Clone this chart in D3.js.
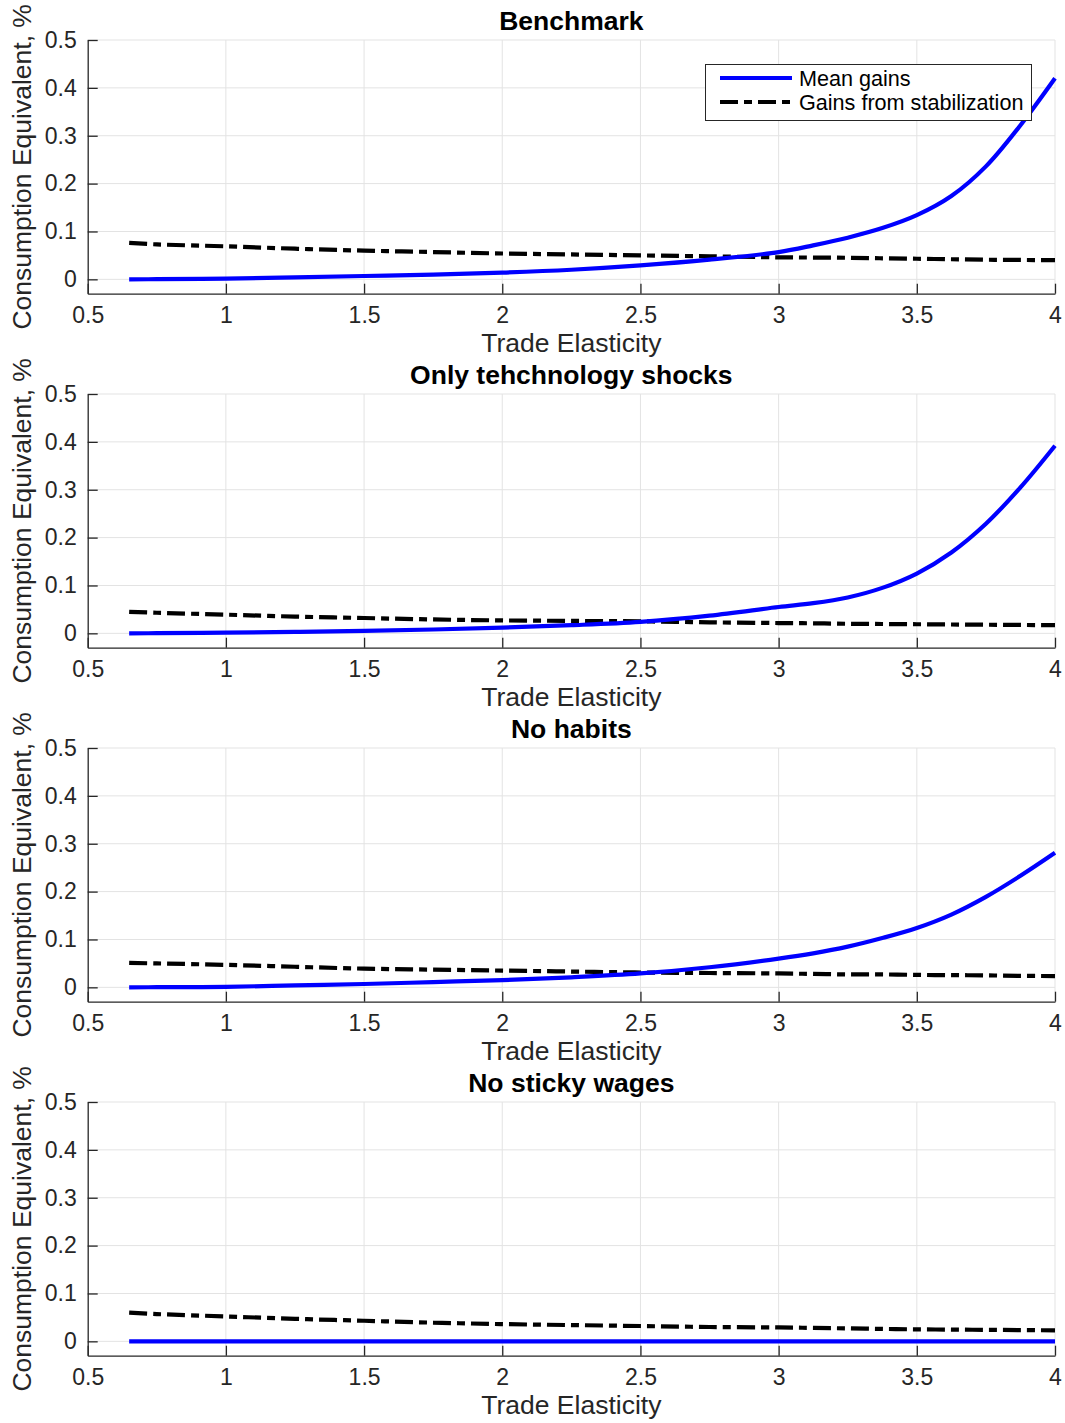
<!DOCTYPE html>
<html><head><meta charset="utf-8">
<script src="https://cdn.jsdelivr.net/npm/d3@7"></script>
<style>
html,body{margin:0;padding:0;background:#fff;}
svg text{font-family:"Liberation Sans",Arial,Helvetica,sans-serif;}
</style></head>
<body><svg id="chart" width="1065" height="1423"></svg>
<script>
// ---- data ----
const elasticity = [0.65, 0.75, 1, 1.25, 1.5, 1.75, 2, 2.25, 2.5, 2.75, 3, 3.125, 3.25, 3.375, 3.5, 3.625, 3.75, 3.875, 4];
const panelTitles = ["Benchmark", "Only tehchnology shocks", "No habits", "No sticky wages"];
const seriesNames = ["Mean gains", "Gains from stabilization"];
const meanBenchmark = [0, 0.0003, 0.0014, 0.004, 0.007, 0.010, 0.014, 0.020, 0.029, 0.041, 0.057, 0.071, 0.087, 0.107, 0.134, 0.174, 0.236, 0.322, 0.420];
const stabBenchmark = [0.076, 0.073, 0.069, 0.064, 0.060, 0.057, 0.054, 0.052, 0.050, 0.048, 0.046, 0.0455, 0.045, 0.044, 0.043, 0.042, 0.041, 0.0405, 0.040];
const meanTech = [0, 0.0003, 0.0015, 0.003, 0.005, 0.008, 0.012, 0.017, 0.024, 0.037, 0.055, 0.063, 0.075, 0.095, 0.125, 0.169, 0.229, 0.305, 0.392];
const stabTech = [0.045, 0.043, 0.039, 0.035, 0.032, 0.029, 0.027, 0.026, 0.025, 0.023, 0.0215, 0.021, 0.020, 0.0195, 0.019, 0.0185, 0.018, 0.0175, 0.017];
const meanNoHabits = [0, 0.0003, 0.001, 0.004, 0.007, 0.011, 0.015, 0.021, 0.029, 0.042, 0.060, 0.071, 0.085, 0.103, 0.124, 0.152, 0.189, 0.233, 0.281];
const stabNoHabits = [0.051, 0.050, 0.047, 0.043, 0.039, 0.037, 0.035, 0.033, 0.031, 0.030, 0.029, 0.028, 0.027, 0.027, 0.026, 0.0255, 0.025, 0.024, 0.0236];
const meanNoSticky = [0, 0, 0, 0, 0, 0, 0, 0, 0, 0, 0, 0, 0, 0, 0, 0, 0, 0, 0];
const stabNoSticky = [0.060, 0.057, 0.052, 0.047, 0.043, 0.039, 0.036, 0.034, 0.032, 0.030, 0.029, 0.028, 0.027, 0.026, 0.025, 0.0245, 0.024, 0.0235, 0.023];
const xTicks = [0.5, 1, 1.5, 2, 2.5, 3, 3.5, 4];
const yTicks = [0, 0.1, 0.2, 0.3, 0.4, 0.5];
const xLabel = "Trade Elasticity";
const yLabel = "Consumption Equivalent, %";

const panels = [
  {title: panelTitles[0], mean: meanBenchmark, stab: stabBenchmark},
  {title: panelTitles[1], mean: meanTech, stab: stabTech},
  {title: panelTitles[2], mean: meanNoHabits, stab: stabNoHabits},
  {title: panelTitles[3], mean: meanNoSticky, stab: stabNoSticky}
];

// ---- layout ----
const svg = d3.select("#chart");
const L = 87.7, R = 1055, T0 = 40, H = 253.7, STEP = 354;
const axisCol = "#262626", gridCol = "#e3e3e3";
const dashPat = "18,6,8,6";
const x = d3.scaleLinear().domain([0.5, 4]).range([L, R]);

panels.forEach((p, i) => {
  const top = T0 + STEP * i;
  const y = d3.scaleLinear().domain([-0.03, 0.5]).range([top + H, top]);
  const g = svg.append("g");

  // grid
  g.append("g").selectAll("line").data(yTicks).join("line")
    .attr("x1", L).attr("x2", R).attr("y1", d => y(d)).attr("y2", d => y(d))
    .attr("stroke", gridCol).attr("stroke-width", 1);
  g.append("g").selectAll("line").data(xTicks.slice(1)).join("line")
    .attr("x1", d => x(d)).attr("x2", d => x(d)).attr("y1", top).attr("y2", top + H)
    .attr("stroke", gridCol).attr("stroke-width", 1);

  // axes
  const xa = g.append("g").attr("transform", `translate(0,${top + H})`)
    .call(d3.axisBottom(x).tickValues(xTicks).tickFormat(d3.format("")).tickSizeInner(-10).tickSizeOuter(0).tickPadding(13));
  const ya = g.append("g").attr("transform", `translate(${L},0)`)
    .call(d3.axisLeft(y).tickValues(yTicks).tickFormat(d3.format("")).tickSizeInner(-10).tickSizeOuter(0).tickPadding(11));
  [xa, ya].forEach(a => {
    a.select(".domain").attr("stroke", axisCol).attr("stroke-width", 1.3);
    a.selectAll(".tick line").attr("stroke", axisCol).attr("stroke-width", 1.3);
    a.selectAll(".tick text").attr("fill", "#262626").attr("font-size", 23)
      .style("font-family", "'Liberation Sans',Arial,sans-serif");
  });
  xa.selectAll(".tick text").attr("dy", "0.71em");

  // lines
  const line = d3.line().x((d, j) => x(elasticity[j])).y(d => y(d)).curve(d3.curveCatmullRom.alpha(0.5));
  g.append("path").attr("d", line(p.stab)).attr("fill", "none")
    .attr("stroke", "#000").attr("stroke-width", 4.2).attr("stroke-dasharray", dashPat);
  g.append("path").attr("d", line(p.mean)).attr("fill", "none")
    .attr("stroke", "#0000ff").attr("stroke-width", 4.2);

  // labels
  g.append("text").attr("x", (L + R) / 2).attr("y", top - 10).attr("text-anchor", "middle")
    .attr("font-size", 26.5).attr("font-weight", "bold").attr("fill", "#000").text(p.title);
  g.append("text").attr("x", (L + R) / 2).attr("y", top + H + 58).attr("text-anchor", "middle")
    .attr("font-size", 26.5).attr("fill", "#262626").text(xLabel);
  g.append("text").attr("transform", `translate(31,${top + H / 2}) rotate(-90)`).attr("text-anchor", "middle")
    .attr("font-size", 26.5).attr("fill", "#262626").text(yLabel);

  // legend
  if (i === 0) {
    const lg = svg.append("g");
    lg.append("rect").attr("x", 705.5).attr("y", 64.5).attr("width", 326).attr("height", 56)
      .attr("fill", "#fff").attr("stroke", axisCol).attr("stroke-width", 1);
    const items = [{name: seriesNames[0], col: "#0000ff", dash: null}, {name: seriesNames[1], col: "#000", dash: dashPat}];
    items.forEach((it, k) => {
      const yy = 78 + 24 * k;
      lg.append("line").attr("x1", 720).attr("x2", 792).attr("y1", yy).attr("y2", yy)
        .attr("stroke", it.col).attr("stroke-width", 4.2).attr("stroke-dasharray", it.dash);
      lg.append("text").attr("x", 799).attr("y", yy + 7.5).attr("font-size", 21.6)
        .attr("fill", "#000").text(it.name);
    });
  }
});
</script>
</body></html>
